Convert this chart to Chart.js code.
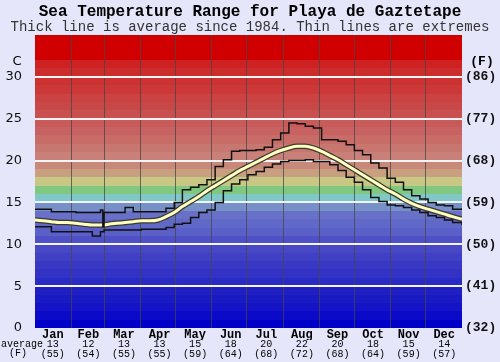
<!DOCTYPE html>
<html>
<head>
<meta charset="utf-8">
<script src="https://cdn.jsdelivr.net/npm/chart.js@4"></script>
<style>
html, body { margin: 0; padding: 0; background: #e6e6fa; }
</style>
</head>
<body>
<canvas id="c" width="500" height="362"></canvas>
<script>
// day of year for each reading
var days = [0, 7, 14, 21, 28, 35, 42, 49, 56, 58, 59, 63, 70, 77, 84, 91, 98, 105, 112, 119,
  126, 133, 140, 147, 154, 161, 168, 175, 182, 189, 196, 203, 210, 217, 224, 231, 238, 245,
  252, 259, 266, 273, 280, 287, 294, 301, 308, 315, 322, 329, 336, 343, 350, 357, 365];

var avgTemp = [12.9, 12.8, 12.7, 12.6, 12.6, 12.5, 12.4, 12.3, 12.3, 12.3, 12.3, 12.4, 12.5, 12.6, 12.7, 12.8, 12.8, 12.9, 13.3, 13.8,
  14.5, 15.1, 15.7, 16.4, 17.0, 17.6, 18.2, 18.8, 19.3, 19.8, 20.3, 20.8, 21.2, 21.5, 21.7, 21.7, 21.5, 21.1,
  20.6, 20.1, 19.5, 18.9, 18.3, 17.7, 17.1, 16.5, 16.0, 15.4, 14.9, 14.5, 14.2, 13.9, 13.6, 13.3, 13.0];

var maxTemp = [14.2, 14.2, 13.9, 13.9, 13.9, 13.8, 13.8, 13.8, 14.1, 12.1, 13.8, 13.8, 13.8, 14.4, 13.9, 13.9, 13.9, 13.9, 14.3, 15.0,
  16.5, 16.8, 17.1, 17.7, 19.3, 20.1, 21.1, 21.2, 21.2, 21.3, 21.6, 22.5, 23.3, 24.5, 24.4, 24.1, 23.9, 22.5,
  22.5, 22.3, 21.9, 21.2, 20.7, 19.7, 19.1, 17.9, 17.4, 16.5, 15.8, 15.4, 15.0, 14.7, 14.6, 14.2, 14.3];

var minTemp = [12.1, 12.1, 11.5, 11.5, 11.5, 11.5, 11.5, 11.0, 11.5, 11.5, 11.7, 11.7, 11.7, 11.7, 11.7, 11.8, 11.8, 11.8, 12.0, 12.4,
  12.5, 13.2, 13.8, 14.1, 15.0, 16.4, 17.2, 17.7, 18.3, 18.7, 19.2, 19.6, 19.9, 20.0, 20.0, 20.1, 19.9, 19.9,
  19.5, 18.8, 18.0, 17.4, 16.5, 15.6, 15.1, 14.7, 14.6, 14.4, 14.1, 13.8, 13.4, 13.2, 12.9, 12.6, 12.3];

var months = ['Jan', 'Feb', 'Mar', 'Apr', 'May', 'Jun', 'Jul', 'Aug', 'Sep', 'Oct', 'Nov', 'Dec'];
var monthAvgC = [13, 12, 13, 13, 15, 18, 20, 22, 20, 18, 15, 14];
var monthAvgF = [55, 54, 55, 55, 59, 64, 68, 72, 68, 64, 59, 57];
var monthStartDays = [31, 59, 90, 120, 151, 181, 212, 243, 273, 304, 334];

// one colour per degree, 0 at the bottom
var bandColors = [
  '#0000c8', '#0a0ac8', '#1414c6', '#1a1ac4', '#2020c2', '#2a2ac4', '#3232c4', '#3838c4', '#4040c4', '#4848c6',
  '#5050c6', '#5a60c8', '#6068c8', '#6870c8', '#7890c8', '#80c8c8', '#80c880', '#c8c884', '#c8a080', '#c8887a',
  '#c88078', '#c87670', '#c86c68', '#c86262', '#c85a5a', '#c85050', '#c84848', '#ca4242', '#cc3838', '#cc3232',
  '#cc2c2c', '#ce2222', '#d00000', '#d00000', '#d00000'];

var pts = function (vals) {
  return days.map(function (d, i) { return { x: d, y: vals[i] }; });
};

var extras = {
  id: 'extras',
  beforeDraw: function (chart) {
    var ctx = chart.ctx, a = chart.chartArea, y = chart.scales.y;
    ctx.save();
    ctx.fillStyle = '#e6e6fa';
    ctx.fillRect(0, 0, chart.width, chart.height);
    for (var t = 0; t < 35; t++) {
      var top = Math.round(y.getPixelForValue(t + 1));
      var bot = Math.round(y.getPixelForValue(t));
      ctx.fillStyle = bandColors[t];
      ctx.fillRect(a.left, top, a.right - a.left, bot - top);
    }
    ctx.restore();
  },
  afterDraw: function (chart) {
    var ctx = chart.ctx;
    ctx.save();
    ctx.fillStyle = '#000';
    ctx.textAlign = 'center';
    ctx.textBaseline = 'middle';
    ctx.font = '13px "DejaVu Sans"';
    ctx.fillText('C', 17, 62);
    ctx.font = 'bold 13px "Liberation Mono"';
    ctx.fillText('(F)', 482, 62);
    ctx.font = '10px "Liberation Mono"';
    ctx.textAlign = 'left';
    ctx.fillText('average', 1, 344);
    ctx.textAlign = 'center';
    ctx.fillText('(F)', 18, 353);
    ctx.restore();
  }
};

var ctx = document.getElementById('c').getContext('2d');
var myChart = new Chart(ctx, {
  type: 'line',
  data: {
    datasets: [
      { data: pts(maxTemp), borderColor: '#111', borderWidth: 1.5, stepped: true, pointRadius: 0, order: 0, xAxisID: 'x', yAxisID: 'y' },
      { data: pts(minTemp), borderColor: '#111', borderWidth: 1.5, stepped: true, pointRadius: 0, order: 0, xAxisID: 'x', yAxisID: 'y' },
      { data: pts(avgTemp), borderColor: '#ffffc0', borderWidth: 3, cubicInterpolationMode: 'monotone', pointRadius: 0, order: 1, xAxisID: 'x', yAxisID: 'y' },
      { data: pts(avgTemp), borderColor: '#3a3a30', borderWidth: 5.5, cubicInterpolationMode: 'monotone', pointRadius: 0, order: 2, xAxisID: 'x', yAxisID: 'y' }
    ]
  },
  options: {
    responsive: false,
    animation: false,
    layout: { padding: 0 },
    plugins: {
      legend: { display: false },
      tooltip: { enabled: false },
      title: {
        display: true,
        text: 'Sea Temperature Range for Playa de Gaztetape',
        color: '#000',
        font: { family: 'Liberation Mono', size: 16, weight: 'bold', lineHeight: 1 },
        padding: { top: 4, bottom: 0 }
      },
      subtitle: {
        display: true,
        text: 'Thick line is average since 1984. Thin lines are extremes',
        color: '#333',
        font: { family: 'Liberation Mono', size: 14, lineHeight: 1 },
        padding: { top: 0, bottom: 1 }
      }
    },
    scales: {
      x: {
        type: 'linear', min: 0, max: 365, position: 'bottom', weight: 10,
        afterBuildTicks: function (s) { s.ticks = monthStartDays.map(function (d) { return { value: d }; }); },
        ticks: { display: false },
        grid: { color: 'rgba(70,70,70,0.75)', lineWidth: 1, drawTicks: false },
        border: { display: false },
        afterFit: function (s) { s.height = 0; }
      },
      xm: {
        type: 'category', labels: months, offset: true, position: 'bottom', weight: 0,
        grid: { display: false, drawTicks: false },
        border: { display: false },
        ticks: { color: '#000', padding: 1, maxRotation: 0, autoSkip: false,
          font: { family: 'Liberation Mono', size: 12, weight: 'bold', lineHeight: 1 } },
        afterFit: function (s) { s.height = 12; }
      },
      xa: {
        type: 'category', offset: true, position: 'bottom', weight: 1,
        labels: monthAvgC.map(function (c, i) { return [String(c), '(' + monthAvgF[i] + ')']; }),
        grid: { display: false, drawTicks: false },
        border: { display: false },
        ticks: { color: '#000', padding: 0, maxRotation: 0, autoSkip: false,
          font: { family: 'Liberation Mono', size: 10, lineHeight: 0.95 } },
        afterFit: function (s) { s.height = 22; }
      },
      y: {
        min: 0, max: 35, position: 'left',
        ticks: { stepSize: 5, padding: 13, color: '#111',
          font: { family: 'DejaVu Sans', size: 13 },
          callback: function (v) { return v === 35 ? '' : v; } },
        grid: { drawTicks: false, lineWidth: 2,
          color: function (c) { return (c.tick && (c.tick.value === 0 || c.tick.value === 35)) ? 'rgba(0,0,0,0)' : '#f4f4f4'; } },
        border: { display: false },
        afterFit: function (s) { s.width = 35; }
      },
      yF: {
        min: 0, max: 35, position: 'right',
        ticks: { stepSize: 5, padding: 3, color: '#111',
          font: { family: 'Liberation Mono', size: 13, weight: 'bold' },
          callback: function (v) { return v === 35 ? '' : '(' + Math.round(v * 9 / 5 + 32) + ')'; } },
        grid: { display: false, drawTicks: false },
        border: { display: false },
        afterFit: function (s) { s.width = 38; }
      }
    }
  },
  plugins: [extras]
});
</script>
</body>
</html>
